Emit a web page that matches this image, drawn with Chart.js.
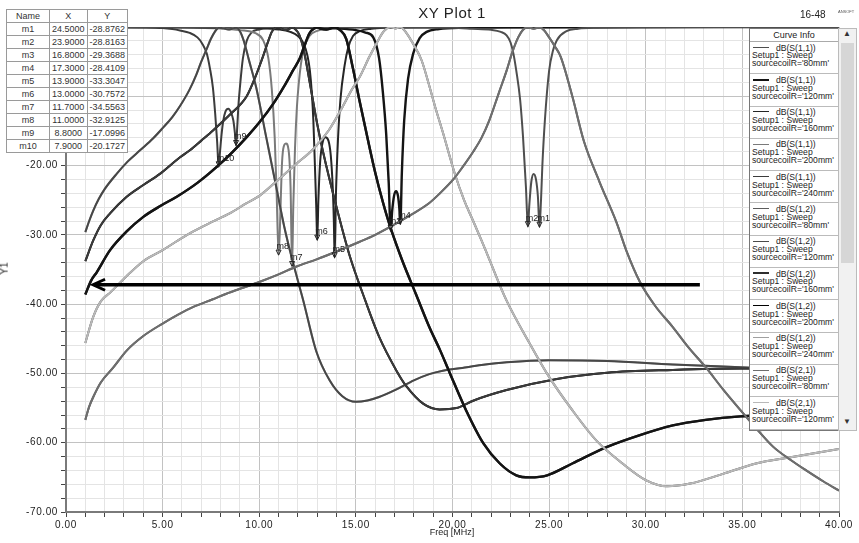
<!DOCTYPE html>
<html>
<head>
<meta charset="utf-8">
<script src="https://cdn.jsdelivr.net/npm/chart.js@4.4.0/dist/chart.umd.min.js"></script>
<style>
  body { margin: 0; background: #fff; font-family: Arial, "Liberation Sans", sans-serif; }
  #wrap { position: relative; width: 859px; height: 543px; overflow: hidden; }
  #chart { position: absolute; left: 0; top: 0; }
  .txt { position: absolute; color: #222; white-space: nowrap; }
  #title { left: 0; width: 904px; top: 4px; text-align: center; font-size: 15px; letter-spacing: 0.6px; }
  #stamp { left: 800px; top: 9px; font-size: 10px; }
  #logo { left: 838px; top: 9px; font-size: 4px; color: #555; }
  #ylab { left: -2px; top: 263px; font-size: 10px; transform: rotate(-90deg); }
  #xlab { left: 0; width: 904px; top: 527px; text-align: center; font-size: 9px; }
  #mtab { position: absolute; left: 6px; top: 9px; border-collapse: collapse; background: #fff; font-size: 9px; color: #333; }
  #mtab td { border: 1px solid #9a9a9a; height: 12px; padding: 0 2px; text-align: center; line-height: 12px; }
  #legend { position: absolute; left: 749px; top: 28px; width: 88px; height: 401px; background: #fff; border: 1px solid #777; overflow: hidden; font-size: 8.6px; color: #222; }
  #legend .hd { height: 12px; line-height: 12px; text-align: center; border-bottom: 1px solid #aaa; font-size: 9px; }
  #legend .ent { height: 32.3px; border-bottom: 1px solid #bbb; padding: 2.5px 0 0 2px; box-sizing: border-box; line-height: 7.9px; }
  #legend .smp { display: inline-block; width: 16px; vertical-align: middle; margin: 0 7px 2px 1px; }
  #scroll { position: absolute; left: 838px; top: 28px; width: 17px; height: 401px; background: #f1f1f1; border: 1px solid #bbb; }
  #thumb { position: absolute; left: 2px; top: 14px; width: 13px; height: 220px; background: #d6d6d6; }
  .arr { position: absolute; left: 4px; font-size: 8px; color: #333; }
</style>
</head>
<body>
<div id="wrap">
  <canvas id="chart" width="859" height="543"></canvas>
  <div class="txt" id="title">XY Plot 1</div>
  <div class="txt" id="stamp">16-48</div>
  <div class="txt" id="logo">ANSOFT</div>
  <div class="txt" id="ylab">Y1</div>
  <div class="txt" id="xlab">Freq [MHz]</div>
  <table id="mtab"></table>
  <div id="legend"><div class="hd">Curve Info</div></div>
  <div id="scroll"><div id="thumb"></div><div class="arr" style="top:0">&#9650;</div><div class="arr" style="top:388px">&#9660;</div></div>
</div>
<script>
const radii = ['80mm', '120mm', '160mm', '200mm', '240mm']

// dB(S(1,1)) for each sourcecoilR, points are [freq MHz, dB]
const s11R80 = [[1, -0.0], [15, -0.02], [18, -0.06], [20, -0.12], [21, -0.25], [22, -0.4], [22.5, -0.7], [22.8, -1.2],
  [23.0, -2.2], [23.15, -3.8], [23.3, -6.3], [23.5, -10.5], [23.65, -15.9], [23.8, -23.1], [23.9, -28.82], [23.98, -25.5],
  [24.08, -22.3], [24.2, -21.2], [24.32, -22.0], [24.42, -24.5], [24.5, -28.88], [24.58, -25], [24.65, -20], [24.78, -13.5],
  [25.0, -6.3], [25.2, -3.4], [25.4, -1.9], [25.9, -0.6], [26.5, -0.25], [27.5, -0.1], [30, -0.03], [40, -0.0]]
const s11R120 = [[1, -0.0], [10, -0.03], [13, -0.1], [14, -0.2], [15, -0.45], [15.5, -0.8], [15.9, -1.5], [16.2, -4.5],
  [16.4, -9.5], [16.57, -15.5], [16.7, -22.5], [16.8, -29.37], [16.88, -26.5], [16.98, -24.3], [17.08, -23.7], [17.18, -24.4],
  [17.25, -26.2], [17.3, -28.41], [17.38, -21], [17.5, -13.5], [17.7, -7.5], [17.97, -3.8], [18.3, -1.6], [18.66, -0.7],
  [19.3, -0.3], [20.5, -0.1], [23, -0.03], [40, -0.0]]
const s11R160 = [[1, -0.01], [8, -0.05], [10, -0.15], [11, -0.35], [11.6, -0.7], [12.0, -1.3], [12.28, -2.3], [12.5, -4.2],
  [12.62, -6.3], [12.72, -9.5], [12.8, -13.5], [12.88, -20], [12.95, -26], [13.0, -30.76], [13.06, -25], [13.15, -19.5],
  [13.27, -16.8], [13.42, -15.9], [13.58, -16.4], [13.7, -18.5], [13.8, -23], [13.86, -28], [13.9, -33.3], [13.97, -24],
  [14.07, -16.5], [14.2, -10.5], [14.42, -5.5], [14.6, -3.0], [14.85, -1.3], [15.2, -0.6], [15.8, -0.25], [16.5, -0.1],
  [18, -0.03], [40, -0.0]]
const s11R200 = [[1, -0.01], [6, -0.06], [8, -0.2], [9, -0.45], [9.8, -0.9], [10.2, -1.9], [10.47, -4.5], [10.65, -9],
  [10.8, -16], [10.9, -24], [11.0, -32.91], [11.07, -29], [11.16, -20.7], [11.24, -17.6], [11.38, -16.8], [11.52, -17.8],
  [11.62, -23.1], [11.7, -34.56], [11.76, -26], [11.85, -17.5], [11.95, -11.5], [12.05, -8.0], [12.15, -5.5], [12.3, -3.2],
  [12.6, -1.3], [13.0, -0.55], [13.6, -0.2], [14.5, -0.08], [40, -0.0]]
const s11R240 = [[1, -0.01], [4, -0.06], [5, -0.15], [5.5, -0.3], [5.9, -0.5], [6.4, -0.85], [6.8, -1.5], [7.05, -2.4],
  [7.28, -3.8], [7.45, -6.0], [7.6, -8.7], [7.72, -12.5], [7.82, -16.5], [7.9, -20.17], [7.97, -18.0], [8.05, -15.5],
  [8.14, -13.5], [8.25, -12.2], [8.4, -11.8], [8.55, -12.4], [8.66, -13.5], [8.74, -15.3], [8.8, -17.1], [8.86, -14.5],
  [8.93, -11], [9.0, -8.7], [9.15, -4.6], [9.35, -2.0], [9.6, -0.8], [10, -0.35], [10.5, -0.15], [11.5, -0.05], [14, -0.02], [40, -0.0]]

// dB(S(1,2)) and dB(S(2,1)) coincide on the plot
const s21R80 = [[1, -56.7], [1.2, -54.8], [1.41, -53.4], [1.8, -51.3], [2.43, -49.2], [3.14, -46.7], [4, -44.6], [5, -42.8],
  [5.8, -41.5], [6.59, -40.4], [7.6, -39.3], [8.3, -38.5], [9.2, -37.6], [10, -36.8], [11, -35.7], [11.9, -34.6], [13, -33.5],
  [14, -32.4], [15.2, -31.0], [16, -30.0], [16.75, -28.9], [17.8, -27.2], [18.8, -25.4], [19.35, -24.0], [20.04, -22.0],
  [20.5, -20.3], [21.07, -18.0], [21.5, -16.0], [21.9, -13.5], [22.4, -9.5], [22.8, -6.3], [23.1, -3.6], [23.4, -1.5],
  [23.65, -0.4], [23.9, -0.05], [24.2, -0.25], [24.5, -0.05], [24.75, -0.5], [25, -1.5], [25.3, -2.8], [25.6, -4.3],
  [26.2, -10.0], [26.8, -16.5], [27.6, -22.3], [28.5, -28.3], [29, -32.3], [29.7, -36.8], [30.5, -40.3], [31.4, -43.3],
  [32.2, -46.2], [33.1, -49.1], [34, -52.3], [34.9, -55.3], [35.8, -58.2], [36.6, -60.6], [37.5, -62.5], [38.3, -64.0],
  [39.2, -65.6], [40, -66.9]]
const s21R120 = [[1, -45.6], [1.4, -41.9], [1.8, -39.6], [2.3, -38.3], [3.12, -36.0], [4, -33.8], [5, -32.2], [5.8, -30.8],
  [6.59, -29.5], [7.5, -28.2], [8.47, -26.9], [9.3, -25.5], [10.04, -24.3], [11, -22.0], [11.9, -19.8], [12.8, -17.6],
  [13.6, -14.9], [14.2, -12.1], [14.8, -9.0], [15.2, -7.2], [15.7, -4.3], [16.1, -2.2], [16.45, -0.6], [16.8, -0.05],
  [17.05, -0.2], [17.3, -0.05], [17.6, -0.8], [18, -2.6], [18.4, -4.8], [18.75, -8.0], [19.1, -11.5], [19.5, -15.2],
  [20.1, -21.0], [20.6, -25.0], [21.07, -28.0], [21.5, -30.8], [21.9, -33.5], [22.8, -39.5], [24, -45.7], [25, -50.5],
  [26.2, -55.3], [27.45, -59.7], [28.8, -63.0], [30, -65.4], [31.1, -66.3], [32.3, -65.9], [34, -64.5], [35.7, -63.0],
  [37.5, -62.1], [40, -60.9]]
const s21R160 = [[1, -38.6], [1.3, -36.6], [1.59, -35.4], [2.28, -32.2], [3.14, -29.5], [4, -27.4], [4.9, -25.8], [5.73, -24.5],
  [6.8, -22.5], [7.8, -20.2], [8.6, -18.1], [9.35, -15.9], [10, -13.8], [10.72, -11.1], [11.3, -8.5], [11.76, -6.2],
  [12.1, -4.5], [12.35, -2.6], [12.6, -0.9], [12.85, -0.2], [13, -0.05], [13.2, -0.25], [13.47, -0.35], [13.7, -0.2],
  [13.9, -0.05], [14.2, -0.5], [14.5, -1.7], [14.85, -6.0], [15.2, -10.8], [15.6, -16.0], [16, -21.0], [16.4, -25.3],
  [16.75, -28.6], [17.4, -33.7], [18.1, -38.5], [18.8, -43.3], [19.35, -46.6], [19.87, -50.0], [20.7, -55.3], [21.6, -60.1],
  [22.45, -63.0], [23.3, -64.7], [24, -65.0], [24.9, -64.7], [26.2, -63.0], [28, -60.6], [29.7, -58.9], [31.4, -57.5],
  [33.1, -56.7], [34.9, -56.2], [37.5, -55.9], [40, -55.7]]
const s21R200 = [[1, -33.8], [1.41, -30.8], [1.8, -28.6], [2.28, -26.9], [3.14, -24.5], [4, -22.8], [4.86, -21.2], [5.9, -18.8],
  [6.41, -17.8], [7, -16.4], [7.62, -14.9], [8.5, -12.6], [9.35, -10.0], [9.8, -7.2], [10.2, -4.2], [10.47, -2.0],
  [10.65, -0.7], [10.8, -0.2], [11, -0.05], [11.2, -0.35], [11.36, -0.45], [11.55, -0.3], [11.7, -0.05], [11.85, -0.3],
  [12.05, -1.0], [12.3, -3.3], [12.6, -7.8], [13, -14.0], [13.3, -18.0], [14, -26.0], [14.7, -33.2], [15.36, -38.5],
  [16.2, -44.7], [17.1, -49.6], [17.6, -51.8], [18.5, -54.4], [19.33, -55.2], [20.2, -55.0], [21.1, -53.9], [22.8, -52.4],
  [25.4, -50.8], [28, -49.9], [31.4, -49.5], [34.9, -49.3], [37.5, -49.3], [40, -49.4]]
const s21R240 = [[1, -29.6], [1.2, -28.0], [1.41, -26.5], [1.7, -24.8], [2, -23.4], [2.62, -21.2], [3.2, -19.4], [3.83, -17.8],
  [4.5, -16.1], [5, -14.6], [5.5, -13.0], [5.9, -11.4], [6.4, -9.0], [6.74, -6.9], [7, -5.0], [7.26, -3.3], [7.5, -1.7],
  [7.7, -0.7], [7.9, -0.1], [8.15, -0.2], [8.4, -0.35], [8.6, -0.25], [8.8, -0.1], [9, -0.6], [9.2, -2.0], [9.45, -4.6],
  [9.84, -8.7], [10.36, -15.9], [10.88, -23.1], [11.3, -28.9], [11.7, -33.5], [12.28, -39.5], [12.95, -46.8], [13.64, -51.0],
  [14.3, -53.3], [15, -54.1], [15.6, -53.9], [16.2, -53.4], [17.1, -52.3], [18, -51.0], [18.8, -50.1], [19.5, -49.6],
  [20.5, -49.2], [21.5, -48.8], [22.8, -48.4], [25, -48.1], [28, -48.2], [31.4, -48.7], [34.9, -49.1], [37.5, -49.4], [40, -49.6]]

const markerNames = ['m1', 'm2', 'm3', 'm4', 'm5', 'm6', 'm7', 'm8', 'm9', 'm10']
const markerFreq = [24.5, 23.9, 16.8, 17.3, 13.9, 13.0, 11.7, 11.0, 8.8, 7.9]
const markerDb = [-28.8762, -28.8163, -29.3688, -28.4109, -33.3047, -30.7572, -34.5563, -32.9125, -17.0996, -20.1727]

// annotation arrow drawn on the plot (freq from -> to, level in dB)
const arrowFreq = [32.8, 1.4]
const arrowDb = -37.2

const s11Data = [s11R80, s11R120, s11R160, s11R200, s11R240]
const s21Data = [s21R80, s21R120, s21R160, s21R200, s21R240]
const s11Colors = ['#4e4e4e', '#141414', '#262626', '#7a7a7a', '#3c3c3c']
const s12Colors = ['#5c5c5c', '#4a4a4a', '#2e2e2e', '#000000', '#a0a0a0']
const s21Colors = ['#6e6e6e', '#b8b8b8', '#141414', '#3a3a3a', '#474747']
const s11Widths = [2, 2.4, 2, 2, 2]
const s21Widths = [2, 2, 2.4, 2, 2]

function curve(param, r, pts, color, width, order) {
  return {
    label: param,
    radius: radii[r],
    data: pts.map((p) => ({ x: p[0], y: p[1] })),
    borderColor: color,
    borderWidth: width,
    showLine: true,
    pointRadius: 0,
    cubicInterpolationMode: 'monotone',
    order: order,
  }
}

const datasets = []
radii.forEach((r, i) => datasets.push(curve('dB(S(1,1))', i, s11Data[i], s11Colors[i], s11Widths[i], 2)))
radii.forEach((r, i) => datasets.push(curve('dB(S(1,2))', i, s21Data[i], s12Colors[i], s21Widths[i], 1)))
radii.forEach((r, i) => datasets.push(curve('dB(S(2,1))', i, s21Data[i], s21Colors[i], s21Widths[i], 0)))

// wider tick lettering like the HFSS plot
const spacing = {
  id: 'spacing',
  beforeDraw(chart) {
    chart.ctx.letterSpacing = '0.6px'
  },
}

const overlay = {
  id: 'overlay',
  afterDatasetsDraw(chart) {
    const { ctx } = chart
    const x = chart.scales.x
    const y = chart.scales.y
    ctx.save()
    ctx.letterSpacing = '0px'
    // markers
    ctx.font = '9px Arial'
    ctx.fillStyle = '#222'
    ctx.strokeStyle = '#222'
    ctx.lineWidth = 1
    for (let i = 0; i < markerNames.length; i++) {
      const px = x.getPixelForValue(markerFreq[i])
      const py = y.getPixelForValue(markerDb[i])
      ctx.beginPath()
      ctx.moveTo(px, py)
      ctx.lineTo(px - 2.5, py - 5)
      ctx.lineTo(px + 2.5, py - 5)
      ctx.closePath()
      ctx.stroke()
      ctx.textAlign = 'left'
      ctx.fillText(markerNames[i], px - 2, py - 6)
    }
    // arrow
    const ay = y.getPixelForValue(arrowDb)
    const x0 = x.getPixelForValue(arrowFreq[0])
    const x1 = x.getPixelForValue(arrowFreq[1])
    ctx.strokeStyle = '#000'
    ctx.lineWidth = 3.5
    ctx.beginPath()
    ctx.moveTo(x0, ay)
    ctx.lineTo(x1 + 1, ay)
    ctx.stroke()
    ctx.lineWidth = 3
    ctx.beginPath()
    ctx.moveTo(x1 + 12, ay - 5.5)
    ctx.lineTo(x1, ay)
    ctx.lineTo(x1 + 12, ay + 5.5)
    ctx.stroke()
    ctx.restore()
  },
}

new Chart(document.getElementById('chart'), {
  type: 'scatter',
  data: { datasets },
  options: {
    responsive: false,
    animation: false,
    devicePixelRatio: 1,
    layout: { padding: { left: 0, right: 20, top: 27, bottom: 0 } },
    plugins: { legend: { display: false }, tooltip: { enabled: false }, title: { display: false } },
    scales: {
      x: {
        type: 'linear',
        min: 0,
        max: 40,
        afterFit: (s) => { s.height = 31 },
        border: { color: '#7a7a7a', width: 2 },
        grid: {
          color: (c) => (c.tick && c.tick.value % 5 === 0 ? '#c2c2c2' : '#e4e4e4'),
          tickColor: '#444',
          tickLength: 5,
        },
        ticks: {
          stepSize: 1,
          autoSkip: false,
          maxRotation: 0,
          padding: 2,
          color: '#222',
          font: { family: 'Arial, "Liberation Sans"', size: 10 },
          callback: (v) => (v % 5 === 0 ? v.toFixed(2) : ''),
        },
      },
      y: {
        min: -70,
        max: 0,
        afterFit: (s) => { s.width = 66 },
        border: { color: '#7a7a7a', width: 2 },
        grid: {
          color: (c) => (c.tick && c.tick.value % 10 === 0 ? '#c2c2c2' : '#e4e4e4'),
          tickColor: '#444',
          tickLength: 5,
        },
        ticks: {
          stepSize: 2,
          autoSkip: false,
          padding: 3,
          color: '#222',
          font: { family: 'Arial, "Liberation Sans"', size: 10 },
          callback: (v) => (v % 10 === 0 ? v.toFixed(2) : ''),
        },
      },
    },
  },
  plugins: [spacing, overlay],
})

// marker table
let rows = '<tr><td style="width:38px">Name</td><td style="width:32px">X</td><td style="width:33px">Y</td></tr>'
for (let i = 0; i < markerNames.length; i++) {
  rows += `<tr><td>${markerNames[i]}</td><td>${markerFreq[i].toFixed(4)}</td><td>${markerDb[i].toFixed(4)}</td></tr>`
}
document.getElementById('mtab').innerHTML = rows

// curve info box (first 12 entries visible, rest scrolled away)
const legend = document.getElementById('legend')
for (let ds of datasets) {
  const ent = document.createElement('div')
  ent.className = 'ent'
  ent.innerHTML = `<div><span class="smp" style="border-top:${ds.borderWidth > 2 ? 2 : 1.5}px solid ${ds.borderColor}"></span>${ds.label}</div>` +
    `<div>Setup1 : Sweep</div><div>sourcecoilR='${ds.radius}'</div>`
  legend.appendChild(ent)
}
</script>
</body>
</html>
